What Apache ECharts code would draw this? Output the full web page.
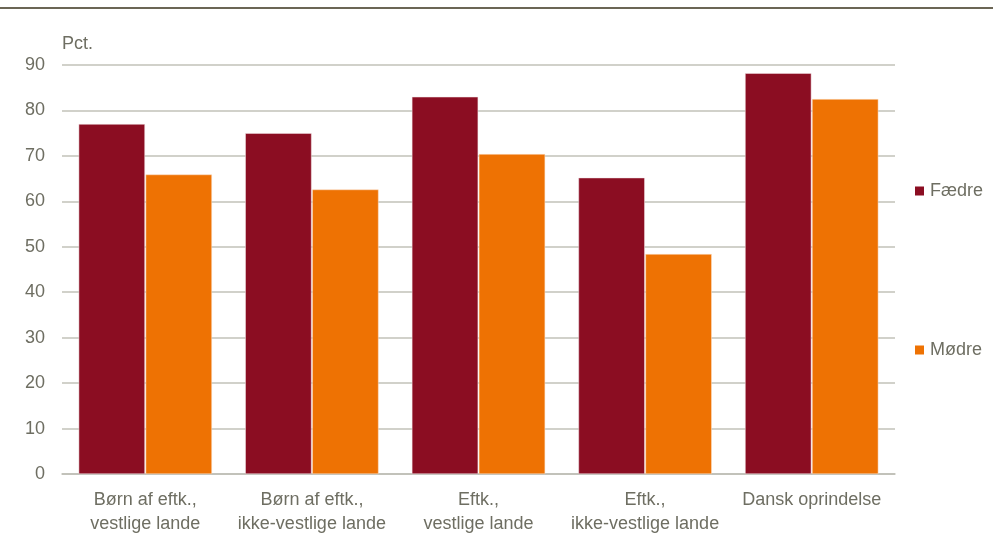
<!DOCTYPE html>
<html><head><meta charset="utf-8">
<script src="https://cdn.jsdelivr.net/npm/echarts@6/dist/echarts.min.js"></script>
<style>html,body{margin:0;padding:0;background:#fff}#c{width:993px;height:539px}</style>
</head><body><div id="c"></div>
<script>
const categories = ['Børn af eftk.,\nvestlige lande','Børn af eftk.,\nikke-vestlige lande','Eftk.,\nvestlige lande','Eftk.,\nikke-vestlige lande','Dansk oprindelse'];
const faedre = [77.0, 75.0, 83.0, 65.2, 88.2];
const moedre = [65.9, 62.6, 70.4, 48.4, 82.5];
const yTicks = [0,10,20,30,40,50,60,70,80,90];
const FONT = '"Liberation Sans Narrow","Arial Narrow","Liberation Sans",sans-serif';
const TXT = '#6e6e62';
const chart = echarts.init(document.getElementById('c'));
chart.setOption({
  animation:false,
  graphic:[{type:'rect',shape:{x:0,y:7,width:993,height:2},style:{fill:'#6b6655'}}],
  grid:{left:62,right:98,top:65,bottom:65},
  legend:{orient:'vertical',left:910,top:177,itemGap:141,itemWidth:9,itemHeight:9,icon:'rect',
    itemStyle:{borderWidth:0},
    textStyle:{fontFamily:FONT,fontSize:18,color:TXT,padding:[0,0,0,1]},data:['Fædre','Mødre']},
  xAxis:{type:'category',data:categories,
    axisLine:{lineStyle:{color:'#bdbdb5',width:1.5}},axisTick:{show:false},
    axisLabel:{fontFamily:FONT,fontSize:18,color:TXT,margin:14,lineHeight:24,interval:0}},
  yAxis:{type:'value',min:0,max:90,interval:10,name:'Pct.',nameLocation:'end',
    nameGap:12,nameTextStyle:{fontFamily:FONT,fontSize:18,color:TXT,align:'left'},
    axisLine:{show:false},axisTick:{show:false},
    splitLine:{lineStyle:{color:'#c2c2b8',width:1.5}},
    axisLabel:{fontFamily:FONT,fontSize:18,color:TXT,margin:17}},
  series:[
    {name:'Fædre',type:'bar',data:faedre,barCategoryGap:'20%',barGap:'1%',
     itemStyle:{color:'#8b0d22',borderColor:'#f3e6e8',borderWidth:0.5}},
    {name:'Mødre',type:'bar',data:moedre,
     itemStyle:{color:'#ee7203',borderColor:'#fbe3cc',borderWidth:0.5}}
  ]
});
</script></body></html>
